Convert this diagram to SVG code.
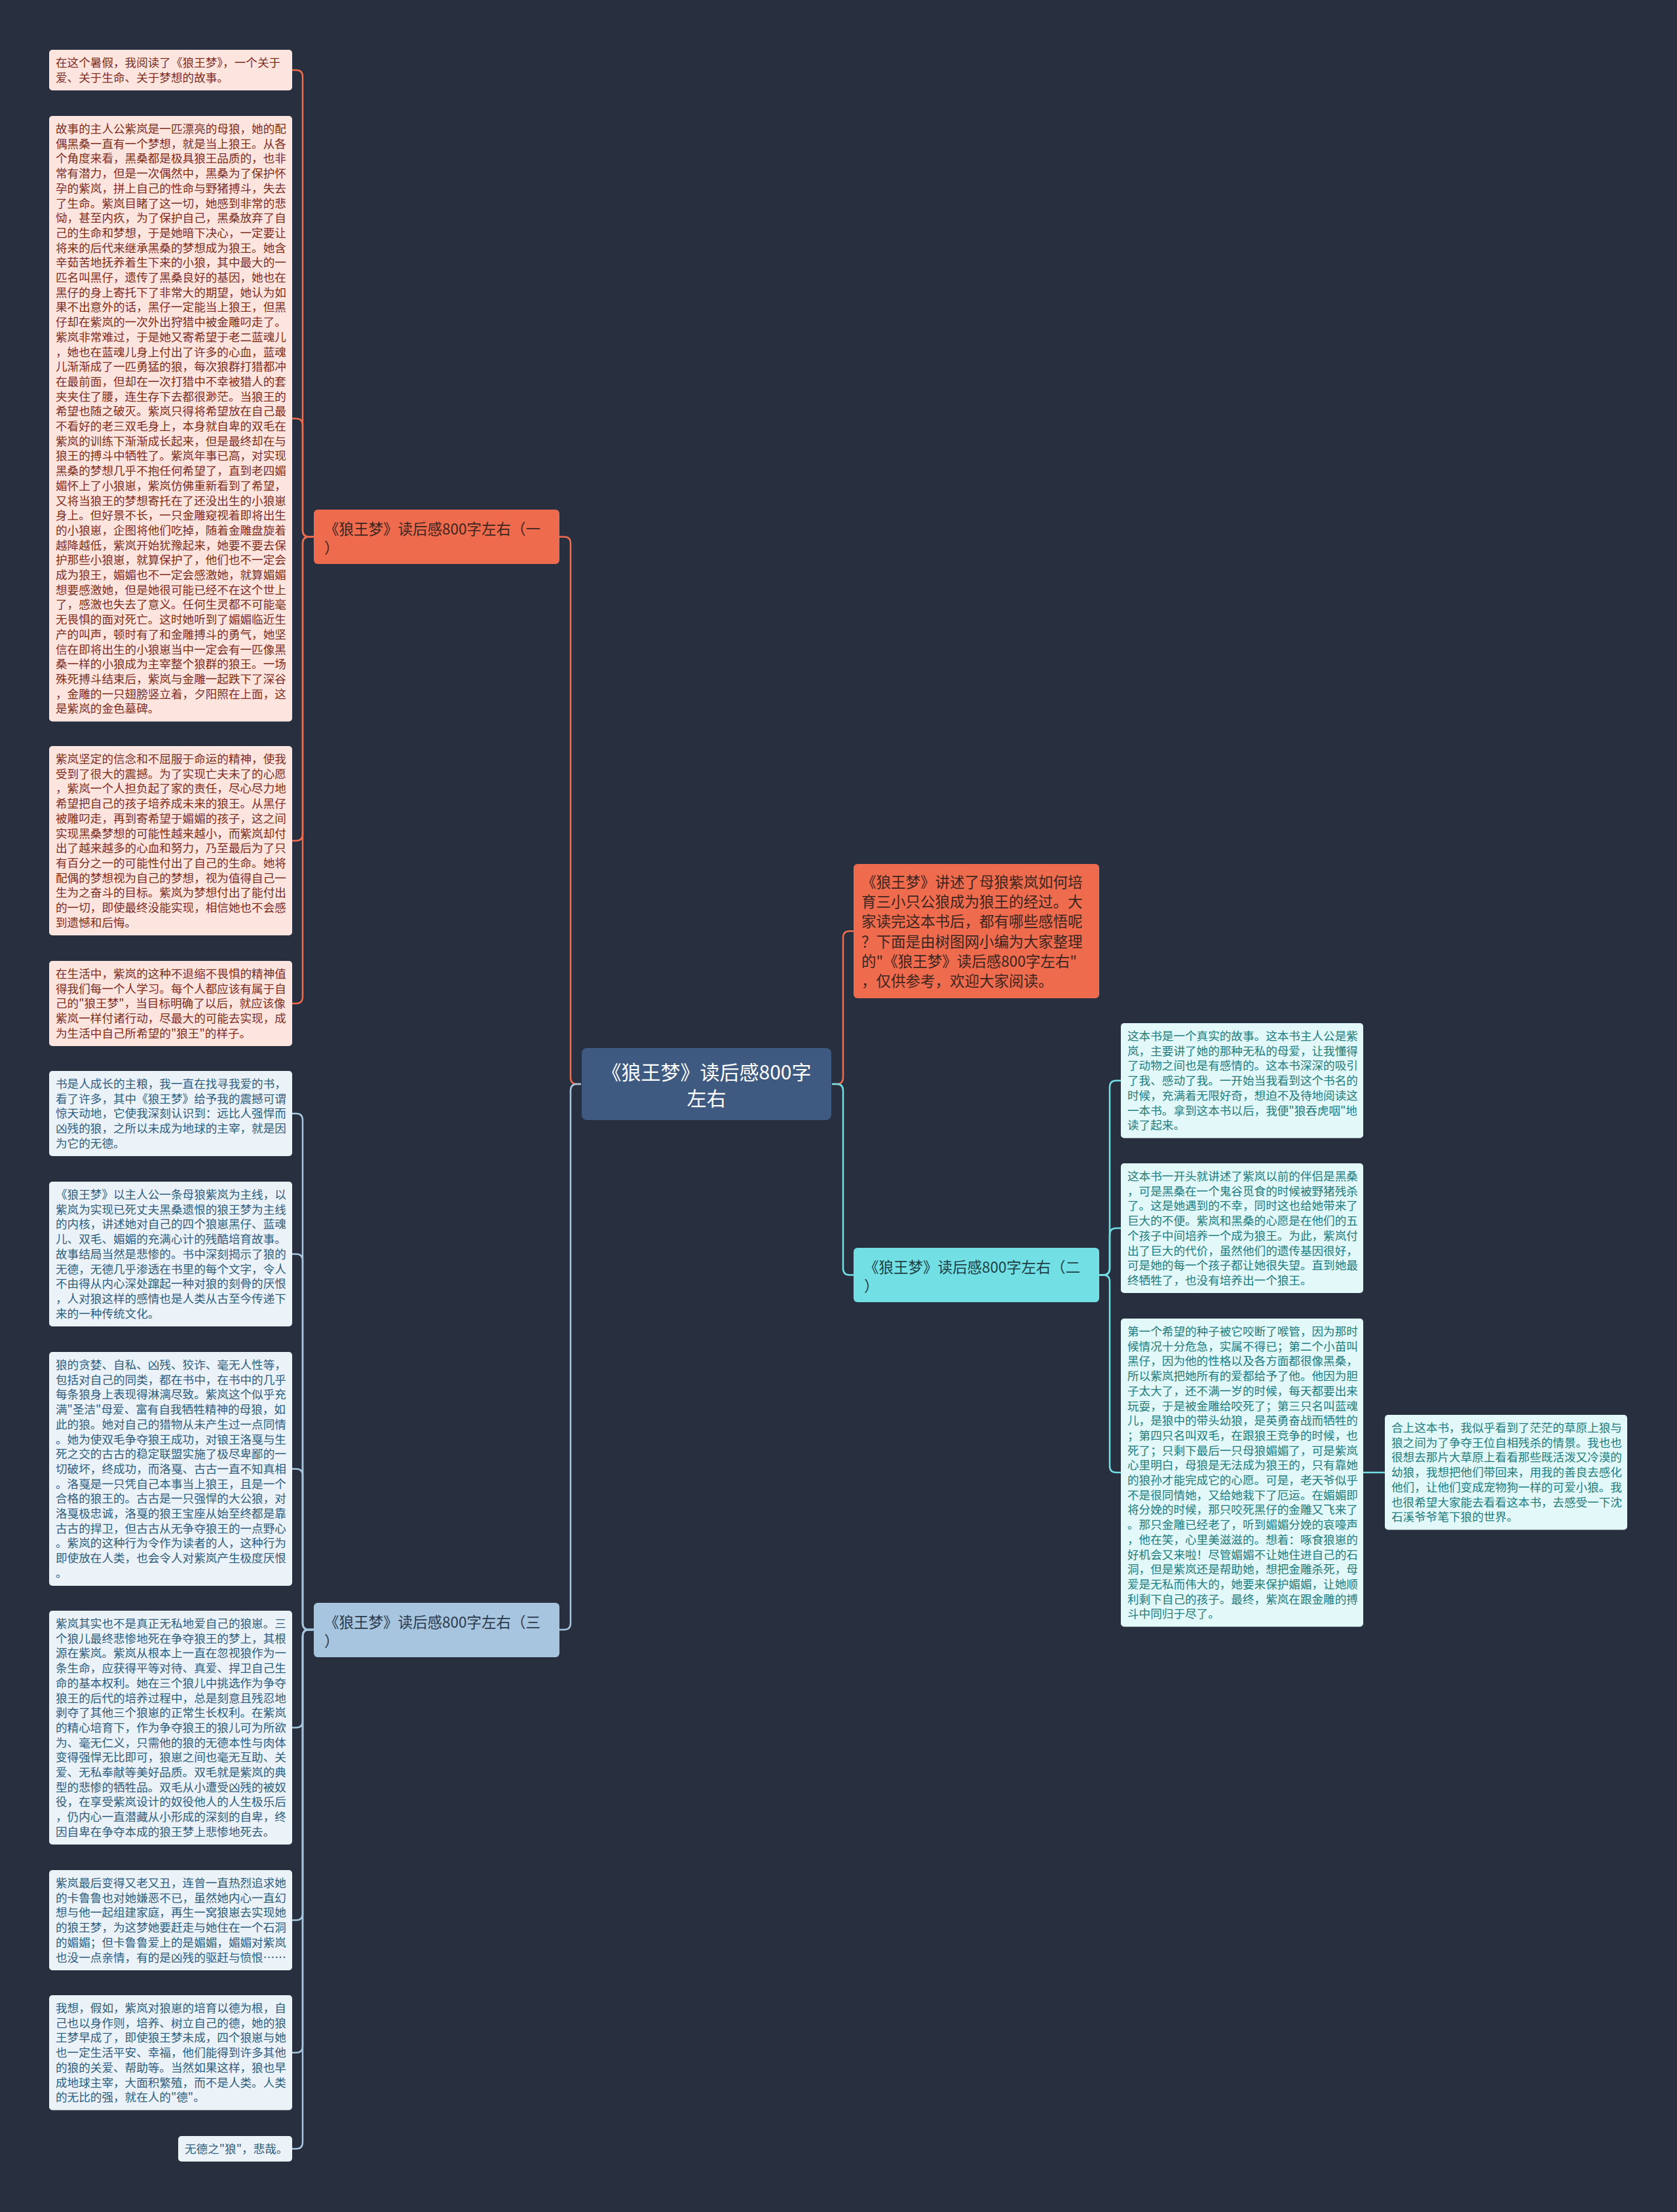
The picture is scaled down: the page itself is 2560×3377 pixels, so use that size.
<svg xmlns="http://www.w3.org/2000/svg" width="2560" height="3377" viewBox="0 0 2560 3377">
<style>
text{font-family:"Noto Sans CJK SC","Noto Sans",sans-serif;}
.bg{fill:#283040;}
.c1{fill:#fde5df;}
.t1{fill:#7c2d22;font-size:17.6px;}
.c3{fill:#ebf3f9;}
.t3{fill:#2f5d7e;font-size:17.6px;}
.c2{fill:#e3f8f8;}
.t2{fill:#217c80;font-size:17.6px;}
.bt{font-size:22.5px;}
.l1{fill:none;stroke:#ee6b4d;stroke-width:2.5;}
.l2{fill:none;stroke:#72dfe4;stroke-width:2.5;}
.l3{fill:none;stroke:#a7c5de;stroke-width:2.5;}
</style>
<rect class="bg" x="0" y="0" width="2560" height="3377"/>

<g id="connectors">
<path class="l1" d="M887,1655 H881 Q871,1655 871,1645 V829.5 Q871,819.5 861,819.5 H854"/>
<path class="l3" d="M887,1655 H881 Q871,1655 871,1665 V2478 Q871,2488 861,2488 H854"/>
<path class="l1" d="M1270,1655 H1277 Q1287,1655 1287,1645 V1431.5 Q1287,1421.5 1297,1421.5 H1303"/>
<path class="l2" d="M1270,1655 H1277 Q1287,1655 1287,1665 V1936.5 Q1287,1946.5 1297,1946.5 H1303"/>

<path class="l1" d="M479,819.5 H472 Q462,819.5 462,809.5 V117 Q462,107 452,107 H446"/>
<path class="l1" d="M479,819.5 H472 Q462,819.5 462,809.5 V649 Q462,639 452,639 H446"/>
<path class="l1" d="M479,819.5 H472 Q462,819.5 462,829.5 V1273.5 Q462,1283.5 452,1283.5 H446"/>
<path class="l1" d="M479,819.5 H472 Q462,819.5 462,829.5 V1522 Q462,1532 452,1532 H446"/>

<path class="l3" d="M479,2488 H472 Q462,2488 462,2478 V1710 Q462,1700 452,1700 H446"/>
<path class="l3" d="M479,2488 H472 Q462,2488 462,2478 V1924.5 Q462,1914.5 452,1914.5 H446"/>
<path class="l3" d="M479,2488 H472 Q462,2488 462,2478 V2252.5 Q462,2242.5 452,2242.5 H446"/>
<path class="l3" d="M479,2488 H472 Q462,2488 462,2498 V2627.5 Q462,2637.5 452,2637.5 H446"/>
<path class="l3" d="M479,2488 H472 Q462,2488 462,2498 V2921.5 Q462,2931.5 452,2931.5 H446"/>
<path class="l3" d="M479,2488 H472 Q462,2488 462,2498 V3123.7 Q462,3133.7 452,3133.7 H446"/>
<path class="l3" d="M479,2488 H472 Q462,2488 462,2498 V3270.5 Q462,3280.5 452,3280.5 H446"/>

<path class="l2" d="M1678,1946.5 H1684 Q1694,1946.5 1694,1936.5 V1659.7 Q1694,1649.7 1704,1649.7 H1711"/>
<path class="l2" d="M1678,1946.5 H1684 Q1694,1946.5 1694,1936.5 V1885 Q1694,1875 1704,1875 H1711"/>
<path class="l2" d="M1678,1946.5 H1684 Q1694,1946.5 1694,1956.5 V2238 Q1694,2248 1704,2248 H1711"/>
<path class="l2" d="M2081,2248 H2114"/>
</g>

<g id="center">
<rect x="888" y="1600" width="381" height="110" rx="8" fill="#3e5a80"/>
<text x="1078.5" y="1648" text-anchor="middle" font-size="30" fill="#ffffff">《狼王梦》读后感800字<tspan x="1078.5" dy="40">左右</tspan></text>
</g>

<g id="intro">
<rect x="1303" y="1319" width="375" height="205" rx="6" fill="#ee6b4d"/>
<text class="bt" x="1315" y="1355" fill="#3d2520"><tspan x="1315">《狼王梦》讲述了母狼紫岚如何培</tspan><tspan x="1315" dy="30.2">育三小只公狼成为狼王的经过。大</tspan><tspan x="1315" dy="30.2">家读完这本书后，都有哪些感悟呢</tspan><tspan x="1315" dy="30.2">？下面是由树图网小编为大家整理</tspan><tspan x="1315" dy="30.2">的"《狼王梦》读后感800字左右"</tspan><tspan x="1315" dy="30.2">，仅供参考，欢迎大家阅读。</tspan></text>
</g>

<g id="branch1">
<rect x="479" y="778" width="375" height="83" rx="6" fill="#ee6b4d"/>
<text class="bt" x="495" y="816" fill="#3d2520"><tspan x="495">《狼王梦》读后感800字左右（一</tspan><tspan x="495" dy="29">）</tspan></text>
</g>

<g id="branch2">
<rect x="1303" y="1905" width="375" height="83" rx="6" fill="#72dfe4"/>
<text class="bt" x="1319" y="1943" fill="#1d3f45"><tspan x="1319">《狼王梦》读后感800字左右（二</tspan><tspan x="1319" dy="29">）</tspan></text>
</g>

<g id="branch3">
<rect x="479" y="2447" width="375" height="83" rx="6" fill="#a7c5de"/>
<text class="bt" x="495" y="2485" fill="#2a3a4c"><tspan x="495">《狼王梦》读后感800字左右（三</tspan><tspan x="495" dy="29">）</tspan></text>
</g>

<g id="n1">
<rect class="c1" x="75" y="76" width="371" height="62" rx="5"/>
<text class="t1" x="85" y="102"><tspan x="85">在这个暑假，我阅读了《狼王梦》，一个关于</tspan><tspan x="85" dy="22.7">爱、关于生命、关于梦想的故事。</tspan></text>
</g>

<g id="n2">
<rect class="c1" x="75" y="177" width="371" height="924.5" rx="5"/>
<text class="t1" x="85" y="203"><tspan x="85">故事的主人公紫岚是一匹漂亮的母狼，她的配</tspan><tspan x="85" dy="22.7">偶黑桑一直有一个梦想，就是当上狼王。从各</tspan><tspan x="85" dy="22.7">个角度来看，黑桑都是极具狼王品质的，也非</tspan><tspan x="85" dy="22.7">常有潜力，但是一次偶然中，黑桑为了保护怀</tspan><tspan x="85" dy="22.7">孕的紫岚，拼上自己的性命与野猪搏斗，失去</tspan><tspan x="85" dy="22.7">了生命。紫岚目睹了这一切，她感到非常的悲</tspan><tspan x="85" dy="22.7">恸，甚至内疚，为了保护自己，黑桑放弃了自</tspan><tspan x="85" dy="22.7">己的生命和梦想，于是她暗下决心，一定要让</tspan><tspan x="85" dy="22.7">将来的后代来继承黑桑的梦想成为狼王。她含</tspan><tspan x="85" dy="22.7">辛茹苦地抚养着生下来的小狼，其中最大的一</tspan><tspan x="85" dy="22.7">匹名叫黑仔，遗传了黑桑良好的基因，她也在</tspan><tspan x="85" dy="22.7">黑仔的身上寄托下了非常大的期望，她认为如</tspan><tspan x="85" dy="22.7">果不出意外的话，黑仔一定能当上狼王，但黑</tspan><tspan x="85" dy="22.7">仔却在紫岚的一次外出狩猎中被金雕叼走了。</tspan><tspan x="85" dy="22.7">紫岚非常难过，于是她又寄希望于老二蓝魂儿</tspan><tspan x="85" dy="22.7">，她也在蓝魂儿身上付出了许多的心血，蓝魂</tspan><tspan x="85" dy="22.7">儿渐渐成了一匹勇猛的狼，每次狼群打猎都冲</tspan><tspan x="85" dy="22.7">在最前面，但却在一次打猎中不幸被猎人的套</tspan><tspan x="85" dy="22.7">夹夹住了腰，连生存下去都很渺茫。当狼王的</tspan><tspan x="85" dy="22.7">希望也随之破灭。紫岚只得将希望放在自己最</tspan><tspan x="85" dy="22.7">不看好的老三双毛身上，本身就自卑的双毛在</tspan><tspan x="85" dy="22.7">紫岚的训练下渐渐成长起来，但是最终却在与</tspan><tspan x="85" dy="22.7">狼王的搏斗中牺牲了。紫岚年事已高，对实现</tspan><tspan x="85" dy="22.7">黑桑的梦想几乎不抱任何希望了，直到老四媚</tspan><tspan x="85" dy="22.7">媚怀上了小狼崽，紫岚仿佛重新看到了希望，</tspan><tspan x="85" dy="22.7">又将当狼王的梦想寄托在了还没出生的小狼崽</tspan><tspan x="85" dy="22.7">身上。但好景不长，一只金雕窥视着即将出生</tspan><tspan x="85" dy="22.7">的小狼崽，企图将他们吃掉，随着金雕盘旋着</tspan><tspan x="85" dy="22.7">越降越低，紫岚开始犹豫起来，她要不要去保</tspan><tspan x="85" dy="22.7">护那些小狼崽，就算保护了，他们也不一定会</tspan><tspan x="85" dy="22.7">成为狼王，媚媚也不一定会感激她，就算媚媚</tspan><tspan x="85" dy="22.7">想要感激她，但是她很可能已经不在这个世上</tspan><tspan x="85" dy="22.7">了，感激也失去了意义。任何生灵都不可能毫</tspan><tspan x="85" dy="22.7">无畏惧的面对死亡。这时她听到了媚媚临近生</tspan><tspan x="85" dy="22.7">产的叫声，顿时有了和金雕搏斗的勇气，她坚</tspan><tspan x="85" dy="22.7">信在即将出生的小狼崽当中一定会有一匹像黑</tspan><tspan x="85" dy="22.7">桑一样的小狼成为主宰整个狼群的狼王。一场</tspan><tspan x="85" dy="22.7">殊死搏斗结束后，紫岚与金雕一起跌下了深谷</tspan><tspan x="85" dy="22.7">，金雕的一只翅膀竖立着，夕阳照在上面，这</tspan><tspan x="85" dy="22.7">是紫岚的金色墓碑。</tspan></text>
</g>

<g id="n3">
<rect class="c1" x="75" y="1139" width="371" height="289" rx="5"/>
<text class="t1" x="85" y="1165"><tspan x="85">紫岚坚定的信念和不屈服于命运的精神，使我</tspan><tspan x="85" dy="22.7">受到了很大的震撼。为了实现亡夫未了的心愿</tspan><tspan x="85" dy="22.7">，紫岚一个人担负起了家的责任，尽心尽力地</tspan><tspan x="85" dy="22.7">希望把自己的孩子培养成未来的狼王。从黑仔</tspan><tspan x="85" dy="22.7">被雕叼走，再到寄希望于媚媚的孩子，这之间</tspan><tspan x="85" dy="22.7">实现黑桑梦想的可能性越来越小，而紫岚却付</tspan><tspan x="85" dy="22.7">出了越来越多的心血和努力，乃至最后为了只</tspan><tspan x="85" dy="22.7">有百分之一的可能性付出了自己的生命。她将</tspan><tspan x="85" dy="22.7">配偶的梦想视为自己的梦想，视为值得自己一</tspan><tspan x="85" dy="22.7">生为之奋斗的目标。紫岚为梦想付出了能付出</tspan><tspan x="85" dy="22.7">的一切，即使最终没能实现，相信她也不会感</tspan><tspan x="85" dy="22.7">到遗憾和后悔。</tspan></text>
</g>

<g id="n4">
<rect class="c1" x="75" y="1467" width="371" height="130" rx="5"/>
<text class="t1" x="85" y="1493"><tspan x="85">在生活中，紫岚的这种不退缩不畏惧的精神值</tspan><tspan x="85" dy="22.7">得我们每一个人学习。每个人都应该有属于自</tspan><tspan x="85" dy="22.7">己的"狼王梦"，当目标明确了以后，就应该像</tspan><tspan x="85" dy="22.7">紫岚一样付诸行动，尽最大的可能去实现，成</tspan><tspan x="85" dy="22.7">为生活中自己所希望的"狼王"的样子。</tspan></text>
</g>

<g id="n5">
<rect class="c3" x="75" y="1635" width="371" height="130" rx="5"/>
<text class="t3" x="85" y="1661"><tspan x="85">书是人成长的主粮，我一直在找寻我爱的书，</tspan><tspan x="85" dy="22.7">看了许多，其中《狼王梦》给予我的震撼可谓</tspan><tspan x="85" dy="22.7">惊天动地，它使我深刻认识到：远比人强悍而</tspan><tspan x="85" dy="22.7">凶残的狼，之所以未成为地球的主宰，就是因</tspan><tspan x="85" dy="22.7">为它的无德。</tspan></text>
</g>

<g id="n6">
<rect class="c3" x="75" y="1804" width="371" height="221" rx="5"/>
<text class="t3" x="85" y="1830"><tspan x="85">《狼王梦》以主人公一条母狼紫岚为主线，以</tspan><tspan x="85" dy="22.7">紫岚为实现已死丈夫黑桑遗恨的狼王梦为主线</tspan><tspan x="85" dy="22.7">的内核，讲述她对自己的四个狼崽黑仔、蓝魂</tspan><tspan x="85" dy="22.7">儿、双毛、媚媚的充满心计的残酷培育故事。</tspan><tspan x="85" dy="22.7">故事结局当然是悲惨的。书中深刻揭示了狼的</tspan><tspan x="85" dy="22.7">无德，无德几乎渗透在书里的每个文字，令人</tspan><tspan x="85" dy="22.7">不由得从内心深处蹿起一种对狼的刻骨的厌恨</tspan><tspan x="85" dy="22.7">，人对狼这样的感情也是人类从古至今传递下</tspan><tspan x="85" dy="22.7">来的一种传统文化。</tspan></text>
</g>

<g id="n7">
<rect class="c3" x="75" y="2064" width="371" height="357" rx="5"/>
<text class="t3" x="85" y="2090"><tspan x="85">狼的贪婪、自私、凶残、狡诈、毫无人性等，</tspan><tspan x="85" dy="22.7">包括对自己的同类，都在书中，在书中的几乎</tspan><tspan x="85" dy="22.7">每条狼身上表现得淋漓尽致。紫岚这个似乎充</tspan><tspan x="85" dy="22.7">满"圣洁"母爱、富有自我牺牲精神的母狼，如</tspan><tspan x="85" dy="22.7">此的狼。她对自己的猎物从未产生过一点同情</tspan><tspan x="85" dy="22.7">。她为使双毛争夺狼王成功，对锒王洛戛与生</tspan><tspan x="85" dy="22.7">死之交的古古的稳定联盟实施了极尽卑鄙的一</tspan><tspan x="85" dy="22.7">切破坏，终成功，而洛戛、古古一直不知真相</tspan><tspan x="85" dy="22.7">。洛戛是一只凭自己本事当上狼王，且是一个</tspan><tspan x="85" dy="22.7">合格的狼王的。古古是一只强悍的大公狼，对</tspan><tspan x="85" dy="22.7">洛戛极忠诚，洛戛的狼王宝座从始至终都是靠</tspan><tspan x="85" dy="22.7">古古的捍卫，但古古从无争夺狼王的一点野心</tspan><tspan x="85" dy="22.7">。紫岚的这种行为令作为读者的人，这种行为</tspan><tspan x="85" dy="22.7">即使放在人类，也会令人对紫岚产生极度厌恨</tspan><tspan x="85" dy="22.7">。</tspan></text>
</g>

<g id="n8">
<rect class="c3" x="75" y="2459" width="371" height="357" rx="5"/>
<text class="t3" x="85" y="2485"><tspan x="85">紫岚其实也不是真正无私地爱自己的狼崽。三</tspan><tspan x="85" dy="22.7">个狼儿最终悲惨地死在争夺狼王的梦上，其根</tspan><tspan x="85" dy="22.7">源在紫岚。紫岚从根本上一直在忽视狼作为一</tspan><tspan x="85" dy="22.7">条生命，应获得平等对待、真爱、捍卫自己生</tspan><tspan x="85" dy="22.7">命的基本权利。她在三个狼儿中挑选作为争夺</tspan><tspan x="85" dy="22.7">狼王的后代的培养过程中，总是刻意且残忍地</tspan><tspan x="85" dy="22.7">剥夺了其他三个狼崽的正常生长权利。在紫岚</tspan><tspan x="85" dy="22.7">的精心培育下，作为争夺狼王的狼儿可为所欲</tspan><tspan x="85" dy="22.7">为、毫无仁义，只需他的狼的无德本性与肉体</tspan><tspan x="85" dy="22.7">变得强悍无比即可，狼崽之间也毫无互助、关</tspan><tspan x="85" dy="22.7">爱、无私奉献等美好品质。双毛就是紫岚的典</tspan><tspan x="85" dy="22.7">型的悲惨的牺牲品。双毛从小遭受凶残的被奴</tspan><tspan x="85" dy="22.7">役，在享受紫岚设计的奴役他人的人生极乐后</tspan><tspan x="85" dy="22.7">，仍内心一直潜藏从小形成的深刻的自卑，终</tspan><tspan x="85" dy="22.7">因自卑在争夺本成的狼王梦上悲惨地死去。</tspan></text>
</g>

<g id="n9">
<rect class="c3" x="75" y="2855" width="371" height="153" rx="5"/>
<text class="t3" x="85" y="2881"><tspan x="85">紫岚最后变得又老又丑，连曾一直热烈追求她</tspan><tspan x="85" dy="22.7">的卡鲁鲁也对她嫌恶不已，虽然她内心一直幻</tspan><tspan x="85" dy="22.7">想与他一起组建家庭，再生一窝狼崽去实现她</tspan><tspan x="85" dy="22.7">的狼王梦，为这梦她要赶走与她住在一个石洞</tspan><tspan x="85" dy="22.7">的媚媚；但卡鲁鲁爱上的是媚媚，媚媚对紫岚</tspan><tspan x="85" dy="22.7">也没一点亲情，有的是凶残的驱赶与愤恨……</tspan></text>
</g>

<g id="n10">
<rect class="c3" x="75" y="3046" width="371" height="175.4" rx="5"/>
<text class="t3" x="85" y="3072"><tspan x="85">我想，假如，紫岚对狼崽的培育以德为根，自</tspan><tspan x="85" dy="22.7">己也以身作则，培养、树立自己的德，她的狼</tspan><tspan x="85" dy="22.7">王梦早成了，即使狼王梦未成，四个狼崽与她</tspan><tspan x="85" dy="22.7">也一定生活平安、幸福，他们能得到许多其他</tspan><tspan x="85" dy="22.7">的狼的关爱、帮助等。当然如果这样，狼也早</tspan><tspan x="85" dy="22.7">成地球主宰，大面积繁殖，而不是人类。人类</tspan><tspan x="85" dy="22.7">的无比的强，就在人的"德"。</tspan></text>
</g>

<g id="n11">
<rect class="c3" x="272" y="3261" width="174" height="39" rx="5"/>
<text class="t3" x="282" y="3287">无德之"狼"，悲哉。</text>
</g>

<g id="r1">
<rect class="c2" x="1711" y="1562" width="370" height="175.4" rx="5"/>
<text class="t2" x="1721" y="1588"><tspan x="1721">这本书是一个真实的故事。这本书主人公是紫</tspan><tspan x="1721" dy="22.7">岚，主要讲了她的那种无私的母爱，让我懂得</tspan><tspan x="1721" dy="22.7">了动物之间也是有感情的。这本书深深的吸引</tspan><tspan x="1721" dy="22.7">了我、感动了我。一开始当我看到这个书名的</tspan><tspan x="1721" dy="22.7">时候，充满着无限好奇，想迫不及待地阅读这</tspan><tspan x="1721" dy="22.7">一本书。拿到这本书以后，我便"狼吞虎咽"地</tspan><tspan x="1721" dy="22.7">读了起来。</tspan></text>
</g>

<g id="r2">
<rect class="c2" x="1711" y="1776" width="370" height="198" rx="5"/>
<text class="t2" x="1721" y="1802"><tspan x="1721">这本书一开头就讲述了紫岚以前的伴侣是黑桑</tspan><tspan x="1721" dy="22.7">，可是黑桑在一个鬼谷觅食的时候被野猪残杀</tspan><tspan x="1721" dy="22.7">了。这是她遇到的不幸，同时这也给她带来了</tspan><tspan x="1721" dy="22.7">巨大的不便。紫岚和黑桑的心愿是在他们的五</tspan><tspan x="1721" dy="22.7">个孩子中间培养一个成为狼王。为此，紫岚付</tspan><tspan x="1721" dy="22.7">出了巨大的代价，虽然他们的遗传基因很好，</tspan><tspan x="1721" dy="22.7">可是她的每一个孩子都让她很失望。直到她最</tspan><tspan x="1721" dy="22.7">终牺牲了，也没有培养出一个狼王。</tspan></text>
</g>

<g id="r3">
<rect class="c2" x="1711" y="2013" width="370" height="470.5" rx="5"/>
<text class="t2" x="1721" y="2039"><tspan x="1721">第一个希望的种子被它咬断了喉管，因为那时</tspan><tspan x="1721" dy="22.7">候情况十分危急，实属不得已；第二个小苗叫</tspan><tspan x="1721" dy="22.7">黑仔，因为他的性格以及各方面都很像黑桑，</tspan><tspan x="1721" dy="22.7">所以紫岚把她所有的爱都给予了他。他因为胆</tspan><tspan x="1721" dy="22.7">子太大了，还不满一岁的时候，每天都要出来</tspan><tspan x="1721" dy="22.7">玩耍，于是被金雕给咬死了；第三只名叫蓝魂</tspan><tspan x="1721" dy="22.7">儿，是狼中的带头幼狼，是英勇奋战而牺牲的</tspan><tspan x="1721" dy="22.7">；第四只名叫双毛，在跟狼王竞争的时候，也</tspan><tspan x="1721" dy="22.7">死了；只剩下最后一只母狼媚媚了，可是紫岚</tspan><tspan x="1721" dy="22.7">心里明白，母狼是无法成为狼王的，只有靠她</tspan><tspan x="1721" dy="22.7">的狼孙才能完成它的心愿。可是，老天爷似乎</tspan><tspan x="1721" dy="22.7">不是很同情她，又给她栽下了厄运。在媚媚即</tspan><tspan x="1721" dy="22.7">将分娩的时候，那只咬死黑仔的金雕又飞来了</tspan><tspan x="1721" dy="22.7">。那只金雕已经老了，听到媚媚分娩的哀嚎声</tspan><tspan x="1721" dy="22.7">，他在笑，心里美滋滋的。想着：啄食狼崽的</tspan><tspan x="1721" dy="22.7">好机会又来啦！尽管媚媚不让她住进自己的石</tspan><tspan x="1721" dy="22.7">洞，但是紫岚还是帮助她，想把金雕杀死，母</tspan><tspan x="1721" dy="22.7">爱是无私而伟大的，她要来保护媚媚，让她顺</tspan><tspan x="1721" dy="22.7">利剩下自己的孩子。最终，紫岚在跟金雕的搏</tspan><tspan x="1721" dy="22.7">斗中同归于尽了。</tspan></text>
</g>

<g id="r4">
<rect class="c2" x="2114" y="2160" width="370" height="175.4" rx="5"/>
<text class="t2" x="2124" y="2186"><tspan x="2124">合上这本书，我似乎看到了茫茫的草原上狼与</tspan><tspan x="2124" dy="22.7">狼之间为了争夺王位自相残杀的情景。我也也</tspan><tspan x="2124" dy="22.7">很想去那片大草原上看看那些既活泼又冷漠的</tspan><tspan x="2124" dy="22.7">幼狼，我想把他们带回来，用我的善良去感化</tspan><tspan x="2124" dy="22.7">他们，让他们变成宠物狗一样的可爱小狼。我</tspan><tspan x="2124" dy="22.7">也很希望大家能去看看这本书，去感受一下沈</tspan><tspan x="2124" dy="22.7">石溪爷爷笔下狼的世界。</tspan></text>
</g>
</svg>
